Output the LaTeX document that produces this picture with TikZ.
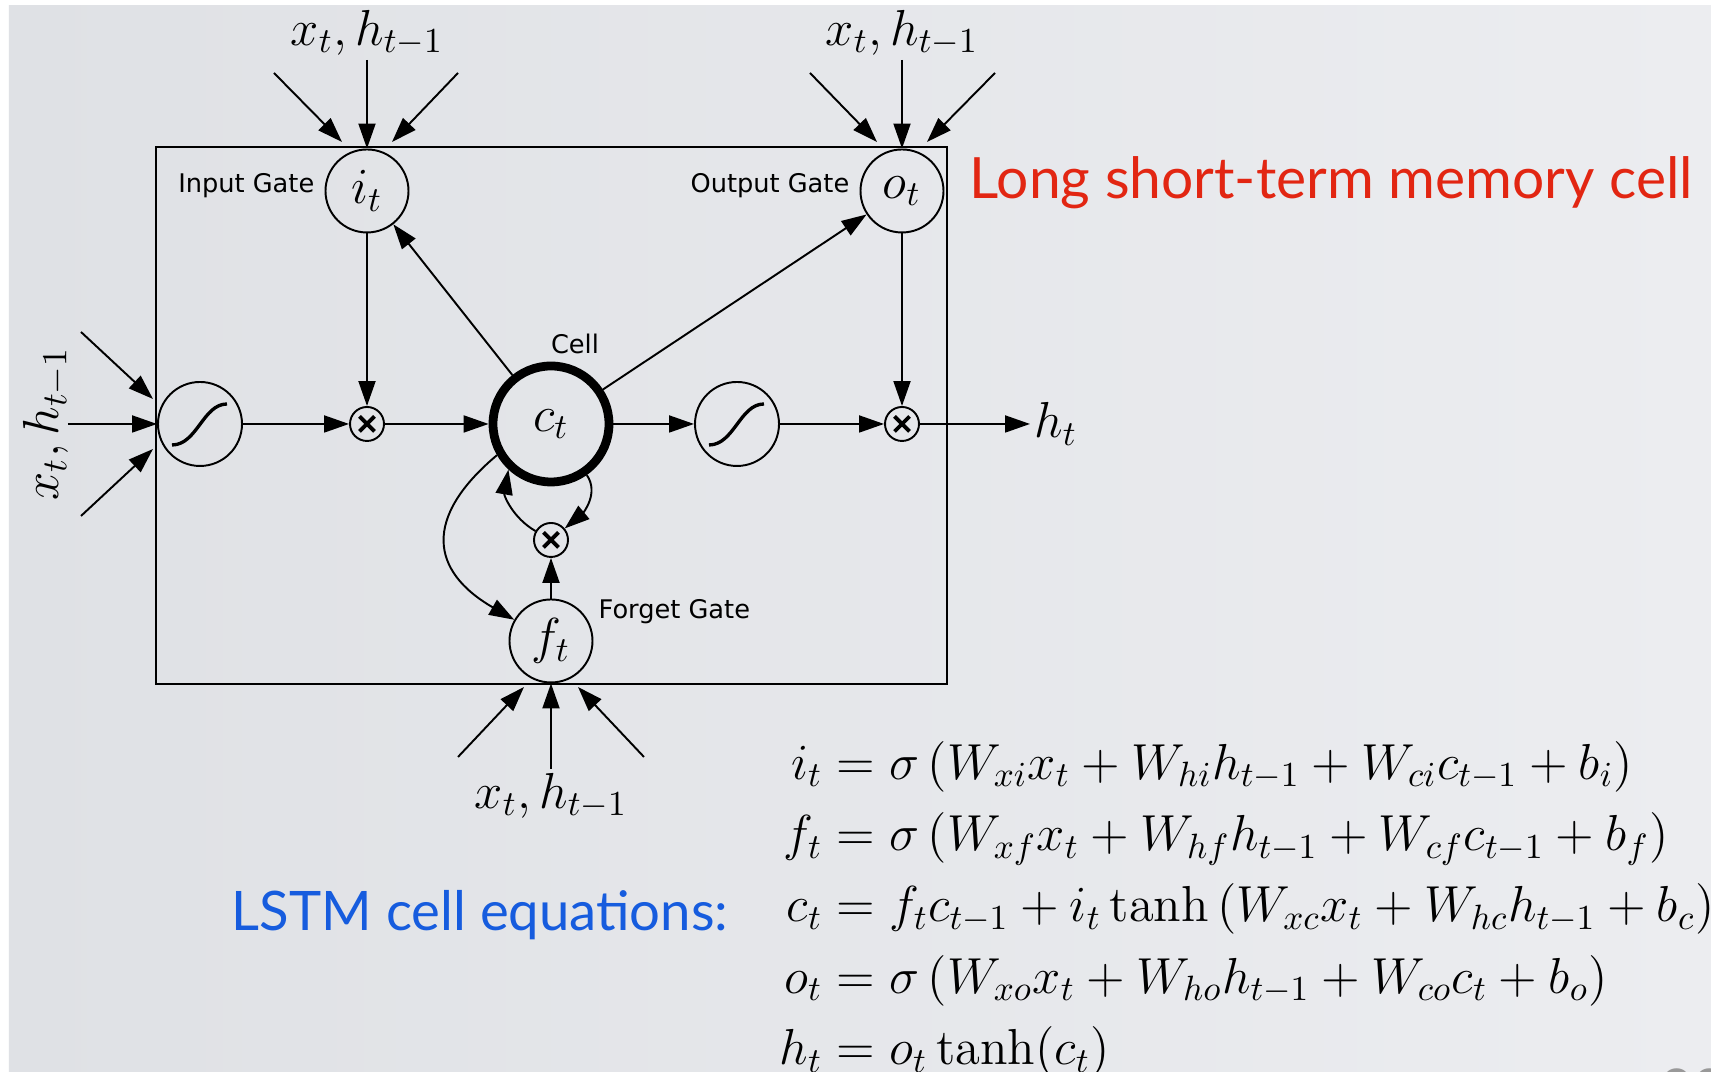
\documentclass[tikz,border=0pt]{standalone}
\usepackage{amsmath}
\usepackage{fontspec}
\setsansfont{DejaVu Sans}
\newfontfamily\slidefont{Lato}
\usepackage{tikz}
\usetikzlibrary{arrows.meta, positioning, calc}
\usepackage{xcolor}
\definecolor{slidered}{RGB}{226,38,18}
\definecolor{slideblue}{RGB}{22,92,222}
\definecolor{slidegrayL}{RGB}{223,225,229}
\definecolor{slidegrayR}{RGB}{236,237,240}
\tikzstyle{gate}      = [circle, draw=black, line width=0.55pt, minimum size=0.83cm, inner sep=0pt,
                          font=\fontsize{14.5}{17}\selectfont]
\tikzstyle{cellnode}  = [circle, draw=black, line width=2.5pt, minimum size=1.16cm, inner sep=0pt,
                          font=\fontsize{14.5}{17}\selectfont]
\tikzstyle{squash}    = [circle, draw=black, line width=0.55pt, minimum size=0.84cm, inner sep=0pt,
                          path picture={\draw[line width=0.95pt, shift={(path picture bounding box.center)}]
                          (-0.28,-0.21) .. controls (-0.03,-0.21) and (0.03,0.20) .. (0.27,0.20);}]
\tikzstyle{mult}      = [circle, draw=black, line width=0.55pt, minimum size=0.34cm, inner sep=0pt,
                          path picture={\draw[line width=1.1pt, shift={(path picture bounding box.center)}]
                          (-0.075,-0.075) -- (0.075,0.075) (-0.075,0.075) -- (0.075,-0.075);}]
\tikzstyle{gatelabel} = [inner sep=1pt, font=\sffamily\fontsize{7.3}{8.5}\selectfont]
\tikzstyle{inputlbl}  = [inner sep=1pt, font=\fontsize{14.5}{17}\selectfont]
\tikzstyle{arrow}     = [line width=0.55pt, -{Triangle[length=0.25cm, width=0.17cm]}]

\begin{document}
\begin{tikzpicture}

  % Slide background
  \useasboundingbox (0, 0) rectangle (17.11, 10.72);
  \fill[white] (0, 0) rectangle (17.11, 10.72);
  \shade[left color=slidegrayL, right color=slidegrayR] (0.09, 0) rectangle (17.11, 10.66);

  % Frame of the cell
  \draw[line width=0.6pt] (1.56, 3.88) rectangle (9.47, 9.25);

  % Gates
  \node (it) [gate] at (3.67, 8.81) {$i_t$};
  \node (ot) [gate] at (9.02, 8.81) {$o_t$};
  \node (ft) [gate] at (5.51, 4.31) {$f_t$};

  % Cell, squashing units and products
  \node (sg1) [squash]   at (2.00, 6.48) {};
  \node (mx1) [mult]     at (3.67, 6.48) {};
  \node (ct)  [cellnode] at (5.51, 6.48) {$c_t$};
  \node (sg2) [squash]   at (7.37, 6.48) {};
  \node (mx2) [mult]     at (9.02, 6.48) {};
  \node (mx3) [mult]     at (5.51, 5.32) {};
  \node (ht)  [inputlbl, anchor=west] at (10.30, 6.48) {$h_t$};

  % Labels
  \node (inlbl)   [gatelabel, left=0.06cm of it, yshift=0.05cm]  {Input Gate};
  \node (outlbl)  [gatelabel, left=0.06cm of ot, yshift=0.05cm]  {Output Gate};
  \node (fglbl)   [gatelabel, right=0.01cm of ft, yshift=0.29cm] {Forget Gate};
  \node (celllbl) [gatelabel] at (5.75, 7.28) {Cell};

  % Free ends of the inputs
  \coordinate (itL) at (2.74, 9.99);  \coordinate (itM) at (3.67, 10.12);  \coordinate (itR) at (4.58, 9.99);
  \coordinate (itLe) at (3.42, 9.30); \coordinate (itRe) at (3.92, 9.30);
  \coordinate (otL) at (8.10, 9.99);  \coordinate (otM) at (9.02, 10.12);  \coordinate (otR) at (9.95, 9.99);
  \coordinate (otLe) at (8.77, 9.30); \coordinate (otRe) at (9.27, 9.30);
  \coordinate (ftL) at (4.58, 3.15);  \coordinate (ftM) at (5.51, 3.03);   \coordinate (ftR) at (6.44, 3.15);
  \coordinate (ftLe) at (5.24, 3.85); \coordinate (ftRe) at (5.78, 3.85);
  \coordinate (sgL) at (0.81, 7.40);  \coordinate (sgM) at (0.68, 6.48);   \coordinate (sgR) at (0.81, 5.56);
  \coordinate (sgLe) at (1.53, 6.73); \coordinate (sgRe) at (1.53, 6.23);

  % Input labels
  \node (itlbl) [inputlbl, above=0pt of itM] {$x_t, h_{t-1}$};
  \node (otlbl) [inputlbl, above=0pt of otM] {$x_t, h_{t-1}$};
  \node (ftlbl) [inputlbl, below=0pt of ftM] {$x_t, h_{t-1}$};
  \node (sglbl) [inputlbl, rotate=90, anchor=south, inner sep=0pt] at ($(sgM)+(0.02,0)$) {$x_t, h_{t-1}$};

  % Inputs -> input gate
  \draw[arrow] (itL) -- (itLe);
  \draw[arrow] (itM) -- (it);
  \draw[arrow] (itR) -- (itRe);
  % Inputs -> output gate
  \draw[arrow] (otL) -- (otLe);
  \draw[arrow] (otM) -- (ot);
  \draw[arrow] (otR) -- (otRe);
  % Inputs -> forget gate
  \draw[arrow] (ftL) -- (ftLe);
  \draw[arrow] (ftM) -- (ft);
  \draw[arrow] (ftR) -- (ftRe);
  % Inputs -> input squashing
  \draw[arrow] (sgL) -- (sgLe);
  \draw[arrow] (sgM) -- (sg1);
  \draw[arrow] (sgR) -- (sgRe);

  % Through the cell
  \draw[arrow] (sg1) -- (mx1);
  \draw[arrow] (it) -- (mx1);
  \draw[arrow] (mx1) -- (ct);
  \draw[arrow] (ct) -- (it);
  \draw[arrow] (ct) -- (ot);
  \draw[arrow] (ct) -- (sg2);
  \draw[arrow] (sg2) -- (mx2);
  \draw[arrow] (ot) -- (mx2);
  \draw[arrow] (mx2) -- (ht);
  % Forget loop
  \draw[arrow] (ft) -- (mx3);
  \draw[arrow] (ct) to[out=-55, in=40] (mx3);
  \draw[arrow] (mx3) to[out=150, in=-100] (ct.-133);
  \draw[arrow] (ct.-150) to[out=-140, in=150, looseness=1.5] (ft.150);

  % Slide texts
  \node (title) [anchor=base west, inner sep=0pt, text=slidered, font=\slidefont\fontsize{16.2}{19}\selectfont]
        at (9.69, 8.73) {Long short-term memory cell};
  \node (eqlbl) [anchor=base west, inner sep=0pt, text=slideblue, font=\slidefont\fontsize{15.5}{19}\selectfont]
        at (2.31, 1.41) {LSTM cell equations:};
  \node (eqs) [anchor=north west, inner sep=0pt, font=\fontsize{14.4}{17.3}\selectfont] at (7.79, 3.36) {%
    $\begin{aligned}
      i_t &= \sigma\left(W_{xi}x_t + W_{hi}h_{t-1} + W_{ci}c_{t-1} + b_i\right)\\
      f_t &= \sigma\left(W_{xf}x_t + W_{hf}h_{t-1} + W_{cf}c_{t-1} + b_f\right)\\
      c_t &= f_t c_{t-1} + i_t \tanh\left(W_{xc}x_t + W_{hc}h_{t-1} + b_c\right)\\
      o_t &= \sigma\left(W_{xo}x_t + W_{ho}h_{t-1} + W_{co}c_t + b_o\right)\\
      h_t &= o_t \tanh(c_t)
    \end{aligned}$};
  \node (pgno) [anchor=north, inner sep=0pt, text=black!40, font=\slidefont\fontsize{16}{19}\selectfont] at (16.93, 0.035) {28};

\end{tikzpicture}
\end{document}
